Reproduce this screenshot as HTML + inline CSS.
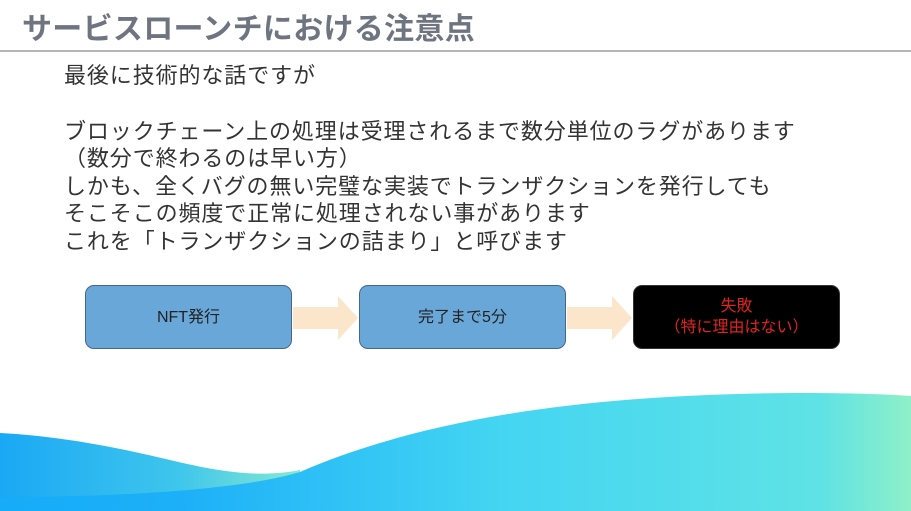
<!DOCTYPE html><html><head><meta charset="utf-8"><style>
body{margin:0;width:911px;height:511px;overflow:hidden;background:#fff;position:relative;font-family:"Liberation Sans","Noto Sans CJK JP",sans-serif}
.t{position:absolute;left:22px;top:4px;font-size:30px;font-weight:bold;color:#6e7580;letter-spacing:0.3px}
.hr{position:absolute;left:0;top:50px;width:911px;height:2px;background:#b5b5b5}
.p{position:absolute;left:64px;font-size:22px;color:#333;white-space:nowrap;line-height:28px;letter-spacing:0.9px}
.b{position:absolute;top:285px;width:205px;height:62px;border:1px solid #44678f;border-radius:9px;background:#6aa7d9;display:flex;align-items:center;justify-content:center;text-align:center;font-size:16px;color:#222;line-height:21px}
</style></head><body>
<div class="t">サービスローンチにおける注意点</div>
<div class="hr"></div>
<div class="p" style="top:62px">最後に技術的な話ですが</div>
<div class="p" style="top:118px">ブロックチェーン上の処理は受理されるまで数分単位のラグがあります</div>
<div class="p" style="top:145px">（数分で終わるのは早い方）</div>
<div class="p" style="top:173px">しかも、全くバグの無い完璧な実装でトランザクションを発行しても</div>
<div class="p" style="top:200px">そこそこの頻度で正常に処理されない事があります</div>
<div class="p" style="top:228px">これを「トランザクションの詰まり」と呼びます</div>
<svg width="911" height="511" style="position:absolute;left:0;top:0">
<polygon points="293,307 338,307 338,296 358,318 338,340 338,329 293,329" fill="#fbe6cc"/>
<polygon points="567,307 612,307 612,296 632,318 612,340 612,329 567,329" fill="#fbe6cc"/>
<defs>
<linearGradient id="g1" x1="0" y1="0" x2="1" y2="0"><stop offset="0" stop-color="#1aa8f5"/><stop offset="0.6" stop-color="#3fc6ec"/><stop offset="1" stop-color="#86e9d0"/></linearGradient>
<linearGradient id="g2" x1="0" y1="0" x2="1" y2="0"><stop offset="0" stop-color="#16acf8"/><stop offset="0.2" stop-color="#1db0f8"/><stop offset="0.55" stop-color="#44d5f2"/><stop offset="0.9" stop-color="#5ee2e5"/><stop offset="1" stop-color="#8ef0c8"/></linearGradient>
</defs>
<path d="M0,433 C60,436 120,448 170,460 C220,472 260,478 300,470 L300,511 L0,511 Z" fill="url(#g1)"/>
<path d="M0,497 C120,497 240,490 300,472 C420,420 580,394 800,393 C860,393 900,395 911,396 L911,511 L0,511 Z" fill="url(#g2)"/>
</svg>
<div class="b" style="left:85px">NFT発行</div>
<div class="b" style="left:359px">完了まで5分</div>
<div class="b" style="left:633px;background:#000;border-color:#333;color:#e0231c">失敗<br>（特に理由はない）</div>
</body></html>
